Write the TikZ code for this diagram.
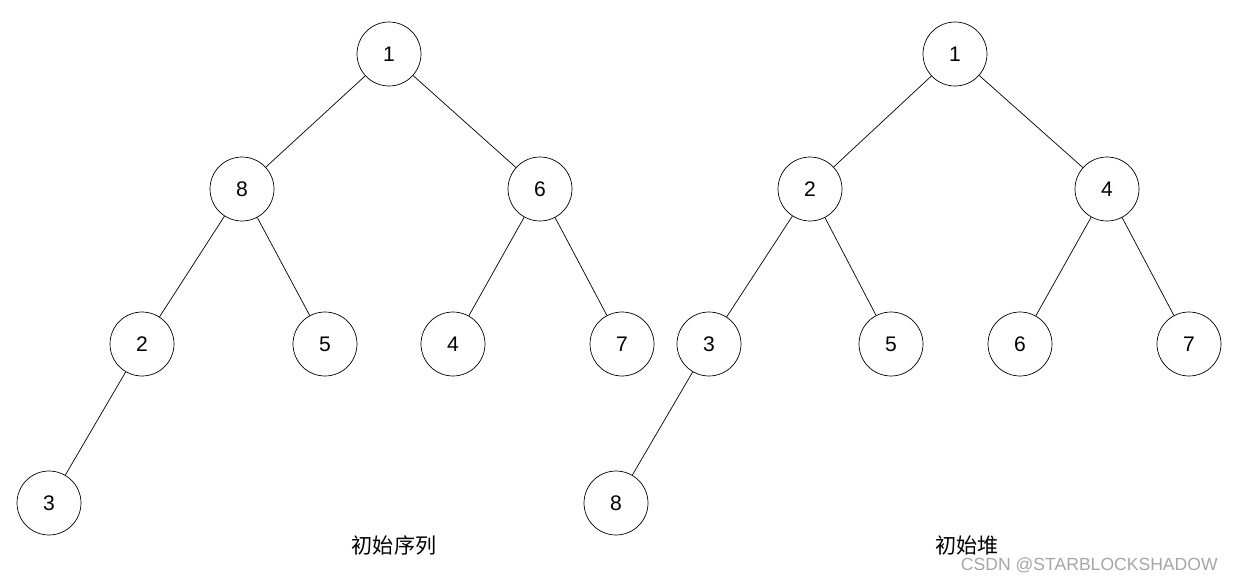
\documentclass[tikz,border=0pt]{standalone}
\usepackage{fontspec}
\setmainfont{Liberation Sans}
\newfontfamily\cjk{Noto Sans CJK SC}
\usepackage{tikz}

\begin{document}
\begin{tikzpicture}[x=0.02cm,y=-0.02cm]
        \tikzset{heapnode/.style={draw, circle, minimum size=1.28cm, inner sep=0pt, font=\large}}
        \useasboundingbox (0,0) rectangle (1234,581);

        % initial sequence
        \node[heapnode] (a1) at (389,54) {1};
        \node[heapnode] (a8) at (242,189) {8};
        \node[heapnode] (a6) at (540,189) {6};
        \node[heapnode] (a2) at (142,344) {2};
        \node[heapnode] (a5) at (325,344) {5};
        \node[heapnode] (a4) at (453,344) {4};
        \node[heapnode] (a7) at (622,344) {7};
        \node[heapnode] (a3) at (49,503) {3};

        \draw (a1) -- (a8);
        \draw (a1) -- (a6);
        \draw (a8) -- (a2);
        \draw (a8) -- (a5);
        \draw (a6) -- (a4);
        \draw (a6) -- (a7);
        \draw (a2) -- (a3);

        % initial heap
        \node[heapnode] (b1) at (955,54) {1};
        \node[heapnode] (b2) at (810,189) {2};
        \node[heapnode] (b4) at (1107,189) {4};
        \node[heapnode] (b3) at (709,344) {3};
        \node[heapnode] (b5) at (891,344) {5};
        \node[heapnode] (b6) at (1020,344) {6};
        \node[heapnode] (b7) at (1189,344) {7};
        \node[heapnode] (b8) at (616,503) {8};

        \draw (b1) -- (b2);
        \draw (b1) -- (b4);
        \draw (b2) -- (b3);
        \draw (b2) -- (b5);
        \draw (b4) -- (b6);
        \draw (b4) -- (b7);
        \draw (b3) -- (b8);

        \node[font=\cjk\large] (seq) at (394,545) {初始序列};
        \node[font=\cjk\large] (heap) at (967,545) {初始堆};
        \node[font=\normalsize, text=gray!70, anchor=east, inner sep=0pt] (mark) at (1218,565) {CSDN @STARBLOCKSHADOW};
    \end{tikzpicture}
\end{document}
